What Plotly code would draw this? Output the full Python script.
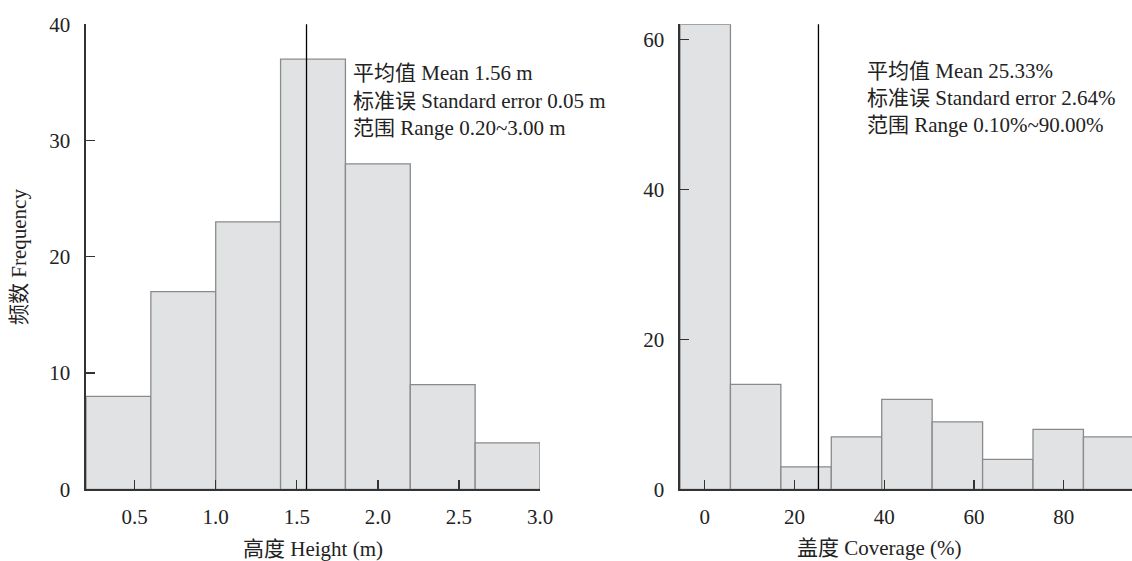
import plotly.graph_objects as go

# ---------------- data ----------------
height_edges = [0.2, 0.6, 1.0, 1.4, 1.8, 2.2, 2.6, 3.0]
height_counts = [8, 17, 23, 37, 28, 9, 4]
height_mean = 1.56
height_ticks = [0.5, 1.0, 1.5, 2.0, 2.5, 3.0]
height_ticktext = ["0.5", "1.0", "1.5", "2.0", "2.5", "3.0"]
height_freq_ticks = [0, 10, 20, 30, 40]
height_stats = ["平均值 Mean 1.56 m",
                "标准误 Standard error 0.05 m",
                "范围 Range 0.20~3.00 m"]

coverage_centers = [0.1, 11.34, 22.58, 33.81, 45.05, 56.29, 67.53, 78.76, 90.0]
coverage_counts = [62, 14, 3, 7, 12, 9, 4, 8, 7]
coverage_binwidth = 11.24
coverage_mean = 25.33
coverage_ticks = [0, 20, 40, 60, 80]
coverage_freq_ticks = [0, 20, 40, 60]
coverage_stats = ["平均值 Mean 25.33%",
                  "标准误 Standard error 2.64%",
                  "范围 Range 0.10%~90.00%"]

x_title_left = "高度 Height (m)"
x_title_right = "盖度 Coverage (%)"
y_title = "频数 Frequency"

# ---------------- figure ----------------
W, H = 1132, 561
FONT = "Liberation Serif, Noto Sans CJK SC"
FS = 21
AX = "#333333"
BAR_FILL = "#e1e2e4"
BAR_LINE = "#8a8a8a"


def px(x):
    return x / W


def py(y):
    return 1 - y / H


height_centers = [(a + b) / 2 for a, b in zip(height_edges[:-1], height_edges[1:])]
height_widths = [b - a for a, b in zip(height_edges[:-1], height_edges[1:])]

fig = go.Figure()
fig.add_trace(go.Bar(x=height_centers, y=height_counts, width=height_widths,
                     marker=dict(color=BAR_FILL, line=dict(color=BAR_LINE, width=1.3)),
                     xaxis="x", yaxis="y", showlegend=False, hoverinfo="skip"))
fig.add_trace(go.Bar(x=coverage_centers, y=coverage_counts,
                     width=[coverage_binwidth] * len(coverage_centers),
                     marker=dict(color=BAR_FILL, line=dict(color=BAR_LINE, width=1.3)),
                     xaxis="x2", yaxis="y2", showlegend=False, hoverinfo="skip"))

ydom = [py(489.3), py(24.3)]
axis_common = dict(showline=True, linecolor=AX, linewidth=1.6, ticks="inside",
                   ticklen=9, tickwidth=1.4, tickcolor=AX, showgrid=False,
                   zeroline=False, automargin=False,
                   tickfont=dict(family=FONT, size=FS, color="#222"))

fig.update_layout(
    template="none",
    width=W, height=H,
    margin=dict(l=0, r=0, t=0, b=0, pad=0),
    paper_bgcolor="white", plot_bgcolor="white",
    font=dict(family=FONT, size=FS, color="#222"),
    bargap=0,
    xaxis=dict(domain=[px(86), px(540)], range=[0.2, 3.0], anchor="y",
               tickvals=height_ticks, ticktext=height_ticktext,
               ticklabelstandoff=8, **axis_common),
    yaxis=dict(domain=ydom, range=[0, 40], anchor="x",
               tickvals=height_freq_ticks, ticklabelstandoff=10, **axis_common),
    xaxis2=dict(domain=[px(680), 1.0], range=[-5.52, 95.2], anchor="y2",
                tickvals=coverage_ticks, ticklabelstandoff=8, **axis_common),
    yaxis2=dict(domain=ydom, range=[0, 62], anchor="x2",
                tickvals=coverage_freq_ticks, ticklabelstandoff=10, **axis_common),
)

# mean lines
fig.add_shape(type="line", xref="x", yref="y domain", x0=height_mean, x1=height_mean,
              y0=0, y1=1, line=dict(color="black", width=1.3))
fig.add_shape(type="line", xref="x2", yref="y2 domain", x0=coverage_mean, x1=coverage_mean,
              y0=0, y1=1, line=dict(color="black", width=1.3))

txt = dict(family=FONT, size=FS, color="#222")

for line, yy in zip(height_stats, [73.5, 101.0, 128.5]):
    fig.add_annotation(text=line, xref="paper", yref="paper", x=px(351), y=py(yy),
                       xanchor="left", yanchor="middle", showarrow=False, font=txt)
for line, yy in zip(coverage_stats, [71.0, 98.0, 125.0]):
    fig.add_annotation(text=line, xref="paper", yref="paper", x=px(865), y=py(yy),
                       xanchor="left", yanchor="middle", showarrow=False, font=txt)

# axis titles
fig.add_annotation(text=x_title_left, xref="paper", yref="paper", x=px(313), y=py(549),
                   xanchor="center", yanchor="middle", showarrow=False, font=txt)
fig.add_annotation(text=x_title_right, xref="paper", yref="paper", x=px(878.6), y=py(548),
                   xanchor="center", yanchor="middle", showarrow=False, font=txt)
fig.add_annotation(text=y_title, xref="paper", yref="paper", x=px(19), y=py(257),
                   xanchor="center", yanchor="middle", textangle=-90, showarrow=False, font=txt)

fig.write_html("out.html",
               config={"displayModeBar": False, "staticPlot": True},
               post_script="document.body.style.margin='0';"
                           "document.body.style.overflow='hidden';")
